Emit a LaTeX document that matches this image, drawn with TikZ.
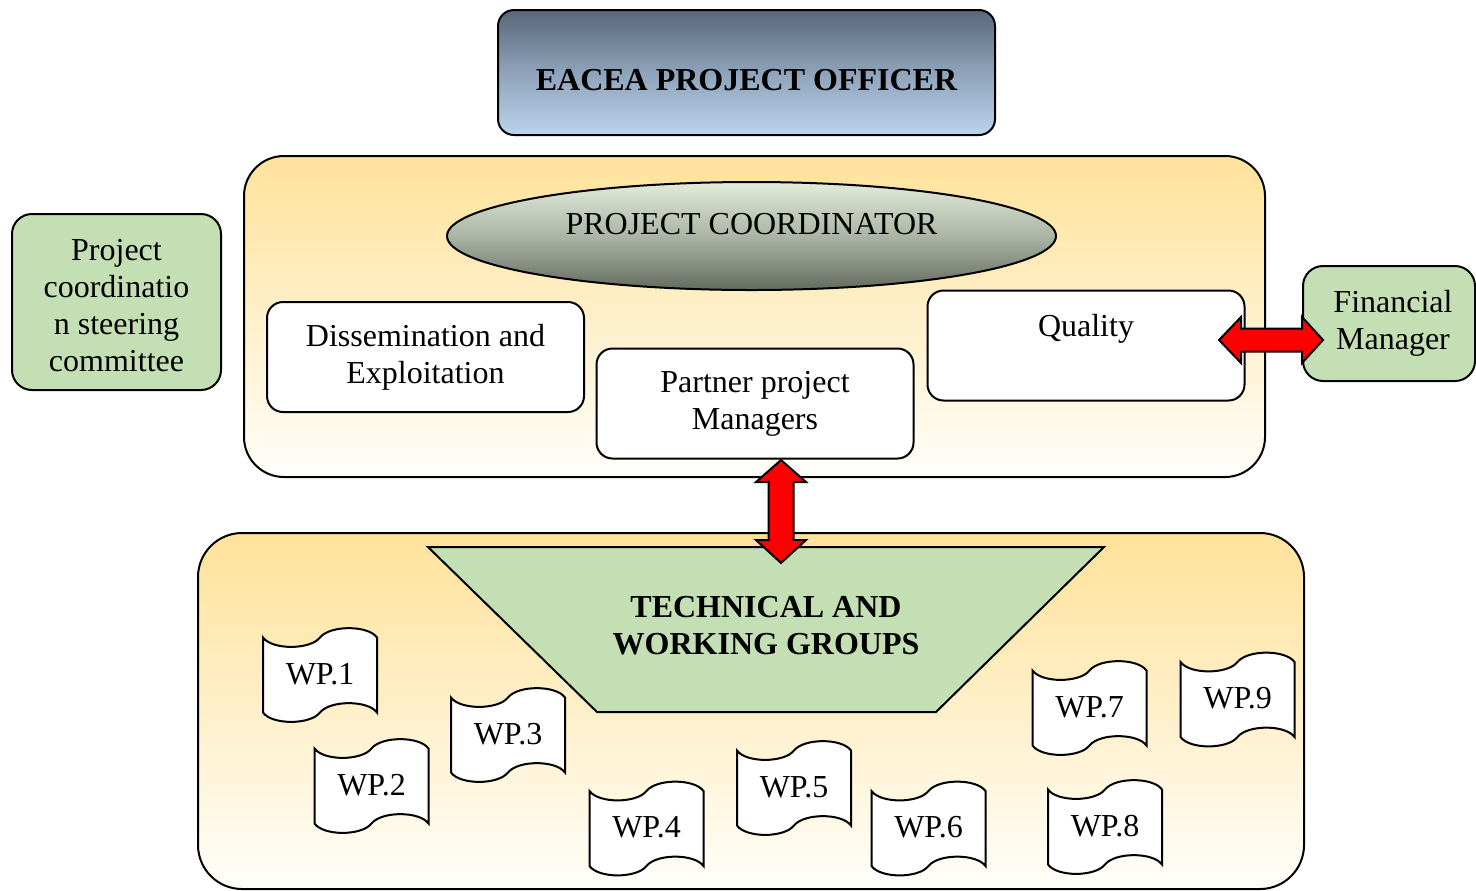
\documentclass[tikz,border=0pt]{standalone}
\usepackage{fontspec}
\setmainfont{Liberation Serif}
\usetikzlibrary{calc,shapes.geometric}
\definecolor{boxgreen}{HTML}{C3DFB3}
\definecolor{offtop}{HTML}{59677A}
\definecolor{offmid}{HTML}{8EA3BA}
\definecolor{offbot}{HTML}{BCD4EC}
\definecolor{contop}{HTML}{FFE29A}
\definecolor{conbot}{HTML}{FFFEFA}
\definecolor{elltop}{HTML}{E2ECDA}
\definecolor{ellmid}{HTML}{ABB4A5}
\definecolor{ellbot}{HTML}{646C60}
\tikzset{
  txt/.style={font=\fontsize{16}{18.5}\selectfont},
  officer/.style={draw, rounded corners=8pt, top color=offtop, bottom color=offbot, middle color=offmid,
    minimum width=248.5pt, minimum height=62.5pt},
  container/.style={draw, rounded corners=20pt, top color=contop, bottom color=conbot},
  whitebox/.style={draw, fill=white, rounded corners=8pt, minimum width=158.5pt, minimum height=55pt, txt},
  greenbox/.style={draw, fill=boxgreen, rounded corners=10pt, txt},
  fatarrow/.style={draw=black, fill=red, line width=1pt, line join=miter},
  wptext/.style={font=\fontsize{16}{18.5}\selectfont},
  wpflag/.pic={
    \filldraw[fill=white, draw=black, line width=1pt]
      (-57,-37.5) .. controls (-48,-25) and (-10,-25) .. (0,-37.5)
      .. controls (10,-50) and (48,-50) .. (57,-37.5)
      -- (57,37.5) .. controls (48,25) and (10,25) .. (0,37.5)
      .. controls (-10,50) and (-48,50) .. (-57,37.5) -- cycle;
    \node[wptext] (-t) at (0,-1) {#1};
  }
}
\begin{document}
\begin{tikzpicture}[x=0.5pt, y=-0.5pt, line width=1pt,
  every node/.style={align=center, inner sep=0pt}]
\useasboundingbox (0,0) rectangle (1476,890);

% top officer
\node[officer, label={[font=\fontsize{16}{18.5}\selectfont\bfseries, yshift=-4pt]center:EACEA PROJECT OFFICER}]
  (off) at (746.5,72.5) {};

% upper container
\node[container, minimum width=510.5pt, minimum height=160.5pt] (upc) at (754.5,316.5) {};
\node[draw, ellipse, top color=elltop, bottom color=ellbot, middle color=ellmid,
  minimum width=304.5pt, minimum height=54pt,
  label={[txt, yshift=6pt]center:PROJECT COORDINATOR}] (pc) at (751.5,236) {};
\node[whitebox] (de) at (425.5,357) {Dissemination and\\Exploitation};
\node[whitebox] (ppm) at (755,403.5) {Partner project\\Managers};
\node[whitebox, label={[txt, yshift=8.5pt]center:Quality}] (qual) at (1086,345.5) {};

% side boxes
\node[greenbox, minimum width=104.5pt, minimum height=88pt,
  label={[txt, yshift=-2pt]center:Project\\coordinatio\\n steering\\committee}] (psc) at (116.5,302) {};
\node[greenbox, minimum width=86pt, minimum height=57.5pt] (fm) at (1389,323.5)
  {\hspace*{4pt}Financial\\\hspace*{4pt}Manager};

% lower container
\node[container, rounded corners=22pt, minimum width=553pt, minimum height=178pt] (lwc) at (751,711) {};
\filldraw[fill=boxgreen, draw=black, line join=miter] (428,547) -- (1104,547) -- (936,712) -- (597,712) -- cycle;
\node[font=\fontsize{16}{18.5}\selectfont\bfseries] (twg) at (766,626)
  {TECHNICAL AND\\WORKING GROUPS};

% work packages
\pic (wp1) at (320,675) {wpflag=WP.1};
\pic (wp2) at (371.5,786) {wpflag=WP.2};
\pic (wp3) at (508,735) {wpflag=WP.3};
\pic (wp4) at (646.5,828.5) {wpflag=WP.4};
\pic (wp5) at (794,788) {wpflag=WP.5};
\pic (wp6) at (928.5,828.5) {wpflag=WP.6};
\pic (wp7) at (1089.5,708) {wpflag=WP.7};
\pic (wp8) at (1105,827) {wpflag=WP.8};
\pic (wp9) at (1237.5,699.5) {wpflag=WP.9};

% double arrows
\coordinate (hl) at (1219,340);
\coordinate (hr) at (1323,340);
\filldraw[fatarrow] (hl) -- ($(hl)+(22,-23)$) -- ($(hl)+(22,-11.5)$) -- ($(hr)+(-21,-11.5)$)
  -- ($(hr)+(-21,-23)$) -- (hr) -- ($(hr)+(-21,23)$) -- ($(hr)+(-21,11.5)$)
  -- ($(hl)+(22,11.5)$) -- ($(hl)+(22,23)$) -- cycle;

\coordinate (vt) at (781,460);
\coordinate (vb) at (781,563);
\filldraw[fatarrow] (vt) -- ($(vt)+(25,22)$) -- ($(vt)+(12.5,22)$) -- ($(vb)+(12.5,-23)$)
  -- ($(vb)+(25,-23)$) -- (vb) -- ($(vb)+(-25,-23)$) -- ($(vb)+(-12.5,-23)$)
  -- ($(vt)+(-12.5,22)$) -- ($(vt)+(-25,22)$) -- cycle;
\end{tikzpicture}
\end{document}
